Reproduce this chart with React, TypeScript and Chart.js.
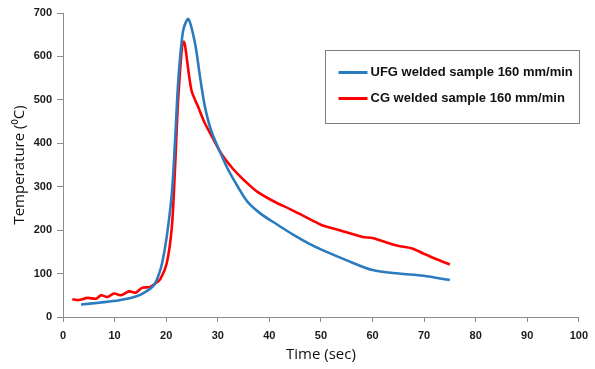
import React, { useEffect, useRef } from 'react';
import { Chart, registerables } from 'chart.js';

Chart.register(...registerables);

// UFG welded sample (blue)
const ufgTime = [3.5, 7, 10.9, 14.1, 16, 17.6, 18.4, 19.2, 20.1, 21.1, 21.7, 22.4, 23.3, 24.3, 25.6, 26.6, 27.5, 28.7, 30.3, 31.9, 33.9, 35.8, 38.3, 41.5, 44.7, 47.5, 50.1, 54.9, 60, 65.1, 69.9, 75];
const ufgTemp = [28.6, 33, 38.5, 47, 58, 73, 92, 123, 184, 284, 400, 553, 660, 686, 630, 550, 485, 430, 384, 342, 300, 265, 238, 213, 189, 170, 155, 131, 108, 100, 95, 85];

// CG welded sample (red)
const cgTime = [1.8, 3, 4.8, 6.4, 7.4, 8.6, 9.9, 11.2, 12.8, 14.1, 15.3, 16.9, 17.9, 18.9, 20.1, 21.1, 21.7, 22.4, 23.4, 24.9, 26.2, 27.5, 29.1, 30.7, 32.9, 35.1, 37.7, 40.9, 44.1, 46.9, 50.1, 53.6, 58.1, 60, 64.5, 67.7, 69.9, 72.2, 75];
const cgTemp = [41, 39, 44, 42, 50, 46, 54, 50, 59, 56, 67, 69, 77, 88, 123, 207, 338, 515, 634, 522, 484, 446, 411, 376, 342, 315, 288, 266, 248, 231, 212, 200, 184, 182, 165, 158, 146, 134, 121];

const seriesLabels = ['UFG welded sample 160 mm/min', 'CG welded sample 160 mm/min'];
const seriesColors = ['#2B7BBF', '#FF0000'];
const xMin = 0, xMax = 100, xStep = 10;
const yMin = 0, yMax = 700, yStep = 100;
const xTitle = 'Time (sec)';
const yTitle = 'Temperature (⁰C)';

const toPoints = (xs: number[], ys: number[]) => xs.map((x, i) => ({ x, y: ys[i] }));

const legendBoxPlugin = {
  id: 'legendBox',
  afterDraw(chart: any) {
    const { ctx, chartArea } = chart;
    const bx = Math.round(chartArea.left + 262) + 0.5;
    const by = Math.round(chartArea.top + 37) + 0.5;
    const bw = 254;
    const bh = 73;
    ctx.save();
    ctx.strokeStyle = '#7f7f7f';
    ctx.lineWidth = 1;
    ctx.fillStyle = '#ffffff';
    ctx.fillRect(bx, by, bw, bh);
    ctx.strokeRect(bx, by, bw, bh);
    ctx.font = 'bold 13px "Liberation Sans", Arial, sans-serif';
    ctx.textBaseline = 'middle';
    ctx.textAlign = 'left';
    seriesLabels.forEach((label, i) => {
      const ly = by + 22 + i * 26;
      ctx.strokeStyle = seriesColors[i];
      ctx.lineWidth = 3;
      ctx.beginPath();
      ctx.moveTo(bx + 13, ly);
      ctx.lineTo(bx + 42, ly);
      ctx.stroke();
      ctx.fillStyle = '#111';
      ctx.fillText(label, bx + 45, ly);
    });
    ctx.restore();
  },
};

export default function App() {
  const ref = useRef<HTMLCanvasElement>(null);

  useEffect(() => {
    if (!ref.current) return;
    const tickFont = { family: '"Liberation Sans", Arial, sans-serif', weight: 'bold' as const, size: 11 };
    const titleFont = { family: '"Open Sans", sans-serif', size: 15 };
    const chart = new Chart(ref.current, {
      type: 'line',
      data: {
        datasets: [
          {
            label: seriesLabels[0],
            data: toPoints(ufgTime, ufgTemp),
            borderColor: seriesColors[0],
            backgroundColor: seriesColors[0],
            borderWidth: 2.6,
            pointRadius: 0,
            tension: 0.3,
          },
          {
            label: seriesLabels[1],
            data: toPoints(cgTime, cgTemp),
            borderColor: seriesColors[1],
            backgroundColor: seriesColors[1],
            borderWidth: 2.6,
            pointRadius: 0,
            tension: 0.3,
          },
        ],
      },
      options: {
        animation: false,
        responsive: false,
        devicePixelRatio: 1,
        layout: { padding: { left: 0, right: 10, top: 13, bottom: 0 } },
        plugins: {
          legend: { display: false },
          tooltip: { enabled: false },
        },
        scales: {
          x: {
            type: 'linear',
            min: xMin,
            max: xMax,
            ticks: { stepSize: xStep, font: tickFont, color: '#1a1a1a', padding: 7, maxRotation: 0 },
            grid: { drawOnChartArea: false, drawTicks: true, tickLength: 5, color: '#8c8c8c' },
            border: { display: true, color: '#8c8c8c', width: 1 },
            title: { display: true, text: xTitle, font: titleFont, color: '#111', padding: { top: 0, bottom: 5 } },
            afterFit(scale: any) { scale.height = 52; },
          },
          y: {
            type: 'linear',
            min: yMin,
            max: yMax,
            ticks: { stepSize: yStep, font: tickFont, color: '#1a1a1a', padding: 5 },
            grid: { drawOnChartArea: false, drawTicks: true, tickLength: 6, color: '#8c8c8c' },
            border: { display: true, color: '#8c8c8c', width: 1 },
            title: { display: true, text: yTitle, font: titleFont, color: '#111', padding: { top: 11, bottom: 0 } },
            afterFit(scale: any) { scale.width = 63; },
          },
        },
      },
      plugins: [legendBoxPlugin],
    } as any);
    return () => chart.destroy();
  }, []);

  return (
    <div style={{ position: 'absolute', left: 0, top: 0, width: 595, height: 369, background: '#fff' }}>
      <canvas ref={ref} width={595} height={369} />
    </div>
  );
}
